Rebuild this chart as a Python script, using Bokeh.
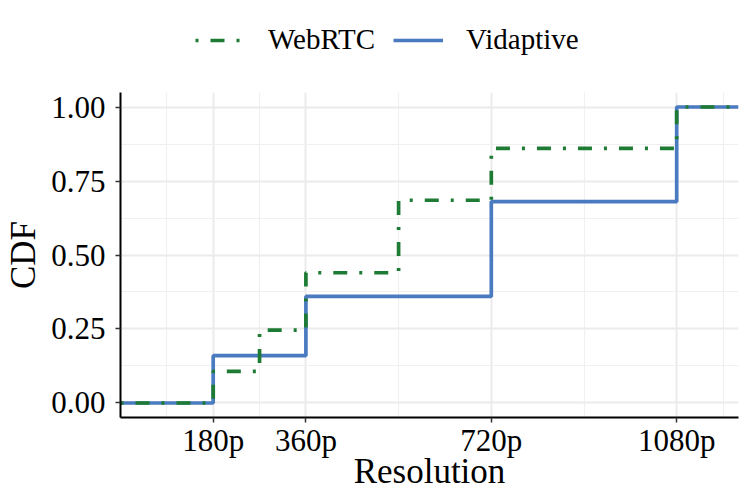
from bokeh.plotting import figure
from bokeh.layouts import column
from bokeh.models import Range1d, FixedTicker, Legend, LegendItem
from bokeh.embed import file_html
from bokeh.resources import INLINE

# ---- data ----
webrtc_res = [180, 270, 360, 540, 720, 1080]
webrtc_cdf = [0.107, 0.246, 0.44, 0.685, 0.86, 1.0]
vid_res = [180, 360, 720, 1080]
vid_cdf = [0.16, 0.36, 0.68, 1.0]
x_ticks = [180, 360, 720, 1080]
x_labels = ["180p", "360p", "720p", "1080p"]
x_minor = [90, 270, 540, 900, 1170]
y_ticks = [0.0, 0.25, 0.5, 0.75, 1.0]
y_minor = [0.125, 0.375, 0.625, 0.875]
x_lim = (0, 1200)
y_lim = (-0.049, 1.049)

FONT = "Liberation Serif"
GREEN = "#1e7b34"
BLUE = "#4a7abf"
W = 740
LEG_H = 88
MAIN_H = 406
WEB_DASH = "3 12 14 12"
LW = 3.7

# step CDFs extended to the panel edges
vx = [x_lim[0]] + vid_res + [x_lim[1]]
vy = [0.0] + vid_cdf + [vid_cdf[-1]]
wx = [x_lim[0]] + webrtc_res + [x_lim[1]]
wy = [0.0] + webrtc_cdf + [webrtc_cdf[-1]]

# ---------------- main plot ----------------
p = figure(width=W, height=MAIN_H, output_backend="svg", toolbar_location=None,
           x_range=Range1d(*x_lim), y_range=Range1d(*y_lim),
           min_border_left=120, min_border_right=2, min_border_top=4, min_border_bottom=77)
p.outline_line_color = None
p.background_fill_color = "white"
p.border_fill_color = "white"

p.step(vx, vy, mode="after", line_color=BLUE, line_width=LW)
p.step(wx, wy, mode="after", line_color=GREEN, line_width=LW, line_dash=WEB_DASH)

p.xaxis.ticker = FixedTicker(ticks=x_ticks, minor_ticks=x_minor)
p.xaxis.major_label_overrides = {t: l for t, l in zip(x_ticks, x_labels)}
p.yaxis.ticker = FixedTicker(ticks=y_ticks, minor_ticks=y_minor)
p.yaxis.major_label_overrides = {t: f"{t:.2f}" for t in y_ticks}

for ax in (p.xaxis, p.yaxis):
    ax.axis_line_color = "black"
    ax.axis_line_width = 2
    ax.major_tick_line_color = "#333333"
    ax.major_tick_line_width = 1.5
    ax.major_tick_out = 5
    ax.major_tick_in = 0
    ax.minor_tick_out = 0
    ax.minor_tick_in = 0
    ax.major_label_text_font = FONT
    ax.major_label_text_font_size = "31px"
    ax.major_label_text_color = "black"
    ax.axis_label_text_font = FONT
    ax.axis_label_text_font_size = "35px"
    ax.axis_label_text_font_style = "normal"
    ax.axis_label_text_color = "black"

p.xaxis.axis_label = "Resolution"
p.yaxis.axis_label = "CDF"
p.xaxis.major_label_standoff = 0
p.xaxis.axis_label_standoff = -9
p.yaxis.major_label_standoff = 10
p.yaxis.axis_label_standoff = 5

for g in (p.xgrid, p.ygrid):
    g.grid_line_color = "#ebebeb"
    g.grid_line_width = 2
    g.minor_grid_line_color = "#f0f0f0"
    g.minor_grid_line_width = 1.2

# ---------------- legend strip above ----------------
# same series drawn out of view so the legend keys carry the same styles
leg = figure(width=W, height=LEG_H, output_backend="svg", toolbar_location=None,
             x_range=Range1d(*x_lim), y_range=Range1d(5, 6),
             x_axis_location=None, y_axis_location=None, min_border=0)
leg.outline_line_color = None
leg.background_fill_color = "white"
leg.border_fill_color = "white"
leg.xgrid.visible = False
leg.ygrid.visible = False
k_vid = leg.step(vx, vy, mode="after", line_color=BLUE, line_width=LW)
k_web = leg.step(wx, wy, mode="after", line_color=GREEN, line_width=LW, line_dash=WEB_DASH)

legend = Legend(items=[LegendItem(label="WebRTC", renderers=[k_web]),
                       LegendItem(label="Vidaptive", renderers=[k_vid])],
                orientation="horizontal", location=(75, 32))
legend.border_line_alpha = 0
legend.background_fill_alpha = 0
legend.padding = 0
legend.margin = 0
legend.spacing = 18
legend.label_standoff = 23
legend.glyph_width = 50
legend.glyph_height = 30
legend.label_height = 30
legend.label_text_font = FONT
legend.label_text_font_size = "29px"
legend.label_text_color = "black"
leg.add_layout(legend, "center")

layout = column(leg, p, spacing=0)
open("out.html", "w").write(file_html(layout, INLINE))
